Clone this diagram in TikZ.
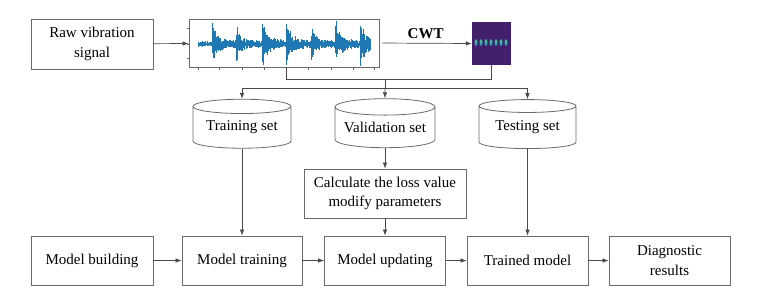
\documentclass[tikz,border=0pt]{standalone}
\usepackage{fontspec}
\setmainfont{Liberation Serif}
\usetikzlibrary{shapes.geometric,arrows.meta}
\definecolor{linec}{HTML}{4A4A4A}
\definecolor{boxc}{HTML}{6A6A6A}
\definecolor{wavec}{HTML}{1F77B4}
\definecolor{cwtbg}{HTML}{43206B}
\definecolor{blobc}{HTML}{2AA9B8}
\definecolor{blobg}{HTML}{7AD151}
\tikzset{
  lbl/.style={font=\fontsize{15}{19.5}\selectfont},
  box/.style={lbl, draw=boxc, line width=0.8pt, minimum height=49pt, align=center, inner sep=0pt},
  db/.style={lbl, cylinder, shape border rotate=90, draw=boxc, line width=0.8pt, aspect=0.2, minimum width=98pt, minimum height=49pt, inner sep=0pt},
  conn/.style={draw=linec, line width=0.7pt},
  arr/.style={conn, -{Latex[length=6pt,width=4.5pt]}},
  tick/.style={draw=boxc, line width=0.5pt},
}
\begin{document}
\begin{tikzpicture}[x=1pt,y=-1pt]
\useasboundingbox (0,0) rectangle (757,303);

% top row
\node[box, minimum width=122pt, minimum height=50pt] (raw) at (92,44) {Raw vibration\\signal};
\node[draw=boxc, line width=0.8pt, minimum width=190pt, minimum height=48pt, inner sep=0pt] (wave) at (284,43) {};
\node[fill=cwtbg, minimum width=39pt, minimum height=43pt, inner sep=0pt] (cwt) at (491.5,43.5) {};

% ticks of the signal plot
\foreach \ty in {28,44,58} { \draw[tick] (189,\ty) -- (187,\ty); }
\foreach \tx in {198,219,242,264,286,308,331,353,374} { \draw[tick] (\tx,67) -- (\tx,69.5); }

% waveform
\pgfmathsetseed{11}
\foreach \i in {0,...,288} {
  \pgfmathsetmacro{\xx}{198+0.6*\i}
  \pgfmathsetmacro{\env}{3
    + 20*(0.65*exp(-max(\xx-213,0)/3)+0.35*exp(-max(\xx-213,0)/11))*(\xx>212)
    + 13*(0.65*exp(-max(\xx-237,0)/3)+0.35*exp(-max(\xx-237,0)/11))*(\xx>236)
    + 21*(0.65*exp(-max(\xx-263,0)/3)+0.35*exp(-max(\xx-263,0)/11))*(\xx>262)
    + 21*(0.65*exp(-max(\xx-287,0)/3)+0.35*exp(-max(\xx-287,0)/11))*(\xx>286)
    + 12*(0.65*exp(-max(\xx-312,0)/3)+0.35*exp(-max(\xx-312,0)/11))*(\xx>311)
    + 20*(0.65*exp(-max(\xx-336,0)/3)+0.35*exp(-max(\xx-336,0)/11))*(\xx>335)
    + 20*(0.65*exp(-max(\xx-361,0)/3)+0.35*exp(-max(\xx-361,0)/11))*(\xx>360)}
  \pgfmathsetmacro{\ya}{44-\env*(0.35+0.65*rnd)}
  \pgfmathsetmacro{\yb}{44+\env*(0.35+0.65*rnd)}
  \draw[wavec, line width=0.75pt] (\xx,\ya) -- (\xx,\yb);
}

% CWT picture blobs
\foreach \bx in {476,481,486,491,496,501,506} {
  \fill[blobc] (\bx,42.5) ellipse (1.5 and 3.4);
  \fill[blobg] (\bx,41.5) ellipse (0.7 and 1.3);
}

% datasets
\node[db] (train) at (242,127.5) {Training set};
\node[db, minimum width=100pt] (valid) at (385,127.5) {Validation set};
\node[db, minimum width=97pt] (test) at (527.5,127.5) {Testing set};

\node[box, minimum width=162pt] (calc) at (385,193.5) {Calculate the loss value\\modify parameters};

% bottom row
\node[box, minimum width=122pt] (build) at (92,260.5) {Model building};
\node[box, minimum width=120pt] (mtrain) at (242,260.5) {Model training};
\node[box, minimum width=121pt] (mupd) at (385,260.5) {Model updating};
\node[box, minimum width=121pt] (trained) at (527.5,260.5) {Trained model};
\node[box, minimum width=121pt] (diag) at (669.5,260.5) {Diagnostic\\results};

% connectors
\draw[arr] (raw) -- (wave);
\draw[arr, shorten <=3pt] (wave.east) -- node[above=0.5pt, font=\fontsize{15}{18}\selectfont\bfseries] {CWT} (cwt.west);
\draw[conn] (wave.south) ++(2,0) -- ++(0,12) coordinate (split) -| (cwt.south);
\coordinate (hub) at (385,88);
\draw[conn] (split -| hub) -- (hub);
\draw[arr] (hub) -| (train.north);
\draw[arr] (hub) -- (valid.north);
\draw[arr] (hub) -| (test.north);

\draw[arr] (train.south) -- (mtrain.north);
\draw[arr] (valid.south) -- (calc.north);
\draw[arr] (calc.south) -- (mupd.north);
\draw[arr] (test.south) -- (trained.north);

\draw[arr] (build) -- (mtrain);
\draw[arr] (mtrain) -- (mupd);
\draw[arr] (mupd) -- (trained);
\draw[arr] (trained) -- (diag);
\end{tikzpicture}
\end{document}
